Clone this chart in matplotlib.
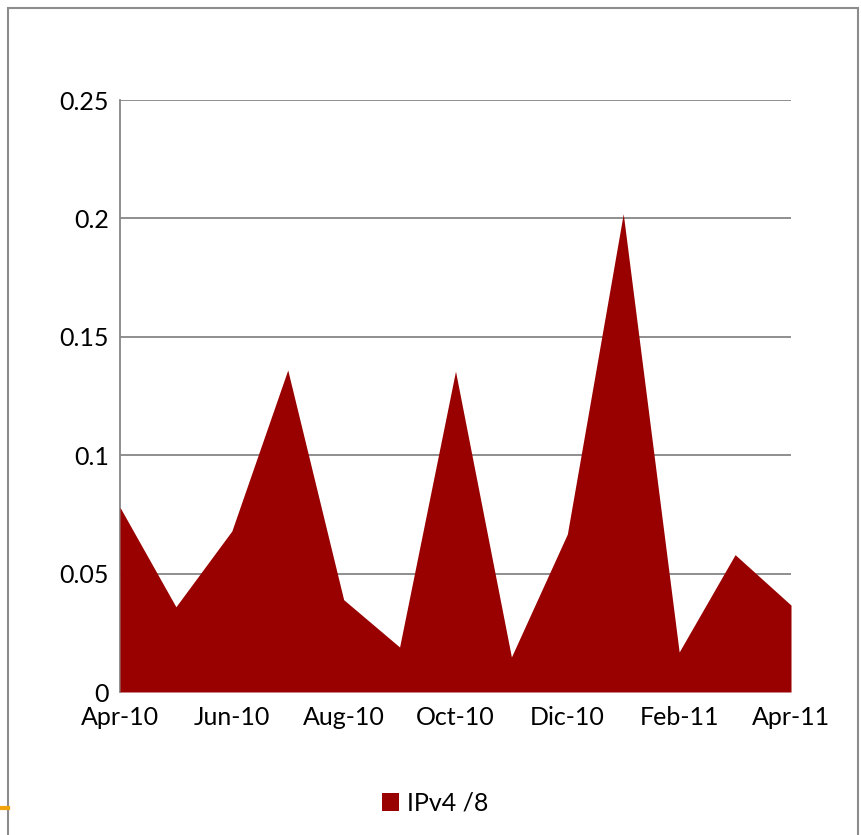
import matplotlib.pyplot as plt
from matplotlib.patches import Rectangle
from matplotlib.lines import Line2D

# monthly values, Apr-10 .. Apr-11
months = ["Apr-10", "May-10", "Jun-10", "Jul-10", "Aug-10", "Sep-10", "Oct-10",
          "Nov-10", "Dic-10", "Jan-11", "Feb-11", "Mar-11", "Apr-11"]
ipv4_8 = [0.078, 0.036, 0.068, 0.136, 0.039, 0.019, 0.1355,
          0.0148, 0.0667, 0.202, 0.0169, 0.058, 0.0367]
yticks = [0, 0.05, 0.1, 0.15, 0.2, 0.25]
ytick_labels = ["0", "0.05", "0.1", "0.15", "0.2", "0.25"]

plt.rcParams['font.family'] = ['Lato', 'DejaVu Sans']

W, H = 862, 835
fig = plt.figure(figsize=(W / 100, H / 100), dpi=100)
ax = fig.add_axes([120 / W, 1 - 692 / H, (791 - 120) / W, (692 - 100) / H])

x = list(range(len(months)))
ax.fill_between(x, 0, ipv4_8, color="#990000", linewidth=0, zorder=3, label="IPv4 /8")

ax.set_xlim(0, len(months) - 1)
ax.set_ylim(0, 0.25)
ax.set_yticks(yticks)
ax.set_yticklabels(ytick_labels)
ax.set_xticks(x[::2])
ax.set_xticklabels(months[::2])
ax.tick_params(length=0, labelsize=18, colors="black")
ax.tick_params(axis="y", pad=8)
ax.tick_params(axis="x", pad=10)
ax.grid(axis="y", color="#868686", linewidth=1.3, zorder=1)
ax.set_axisbelow(True)
for s in ["top", "right", "bottom"]:
    ax.spines[s].set_visible(False)
ax.spines["left"].set_color("#868686")
ax.spines["left"].set_linewidth(1.3)

fig.legend(loc="center", bbox_to_anchor=(435 / W, 1 - 803 / H), frameon=False,
           fontsize=18, handlelength=0.7, handleheight=0.7, handletextpad=0.3)

# slide frame
fig.patches.append(Rectangle((8 / W, -0.1), (858 - 8) / W, 1.1 - 8 / H,
                             transform=fig.transFigure, fill=False,
                             edgecolor="#8c8c8c", linewidth=1.5))
fig.lines.append(Line2D([0, 8 / W], [1 - 808 / H] * 2, transform=fig.transFigure,
                        color="#f0a30a", linewidth=3))

fig.savefig("out.png", dpi=100)
